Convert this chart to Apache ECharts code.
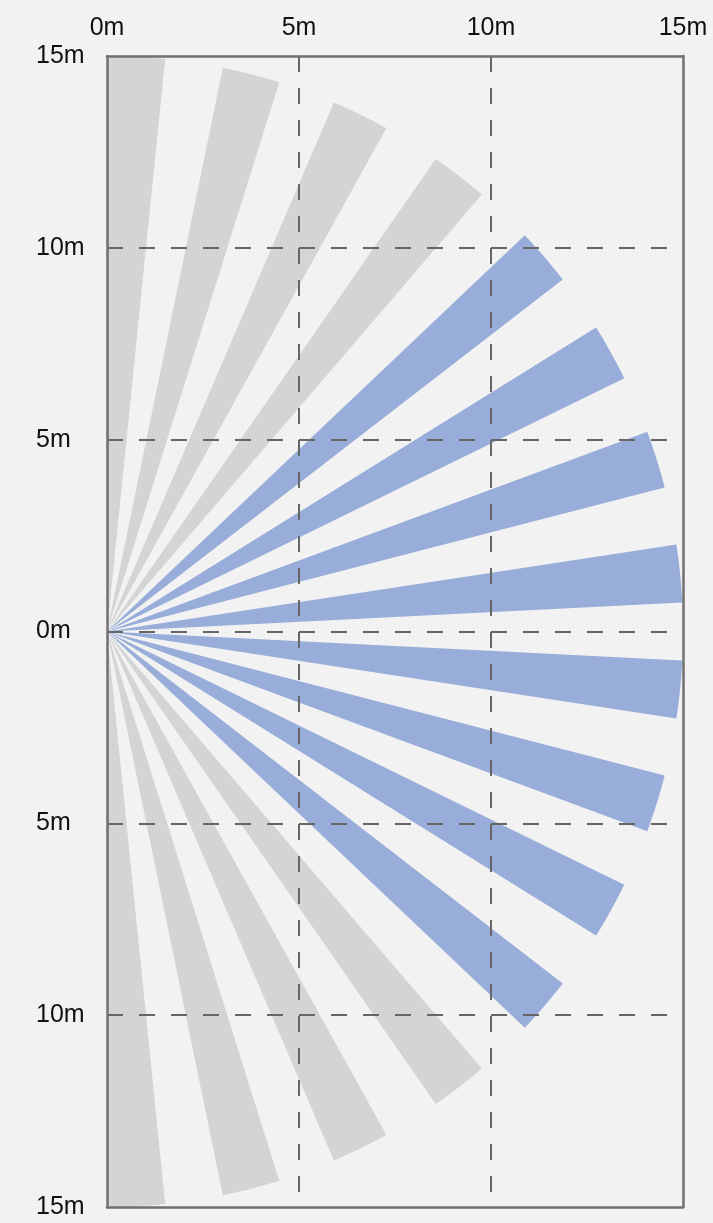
<!DOCTYPE html>
<html>
<head>
<meta charset="utf-8">
<style>
  html, body { margin: 0; padding: 0; background: #f2f2f2; }
  #chart { width: 713px; height: 1223px; }
</style>
<script src="https://cdn.jsdelivr.net/npm/echarts@6/dist/echarts.min.js"></script>
</head>
<body>
<div id="chart"></div>
<script>
// Wedge angles in degrees (0 = pointing right, positive = up), radius in metres
const wedgeStart = [90, 78.4, 66.8, 55.2, 43.5, 31.9, 20.3, 8.7, -2.9, -14.5, -26.1, -37.7, -49.4, -61.0, -72.6, -84.2];
const wedgeEnd   = [84.2, 72.6, 61.0, 49.4, 37.7, 26.1, 14.5, 2.9, -8.7, -20.3, -31.9, -43.5, -55.2, -66.8, -78.4, -90];
const wedgeRadius = [15, 15, 15, 15, 15, 15, 15, 15, 15, 15, 15, 15, 15, 15, 15, 15];
const wedgeGroup = ['grey', 'grey', 'grey', 'grey', 'blue', 'blue', 'blue', 'blue',
                    'blue', 'blue', 'blue', 'blue', 'grey', 'grey', 'grey', 'grey'];
const xTicks = [0, 5, 10, 15];
const yTicks = [-15, -10, -5, 0, 5, 10, 15];

const groupColors = { grey: '#d3d4d6', blue: '#98add9' };

function wedgeData(group) {
  const out = [];
  for (let i = 0; i < wedgeStart.length; i++) {
    if (wedgeGroup[i] === group) out.push([wedgeStart[i], wedgeEnd[i], wedgeRadius[i]]);
  }
  return out;
}

function renderWedge(params, api) {
  const a0 = api.value(0), a1 = api.value(1), r = api.value(2);
  const pts = [api.coord([0, 0])];
  const n = 40;
  for (let k = 0; k <= n; k++) {
    const a = (a0 + (a1 - a0) * k / n) * Math.PI / 180;
    pts.push(api.coord([r * Math.cos(a), r * Math.sin(a)]));
  }
  return {
    type: 'polygon',
    shape: { points: pts },
    style: { fill: api.visual('color') }
  };
}

const labelFont = { fontSize: 25, color: '#111', fontFamily: 'Liberation Sans, Arial, sans-serif' };
const frameLine = { show: true, onZero: false, lineStyle: { color: '#707070', width: 2.5 } };
const dashLine = { show: true, showMinLine: false, showMaxLine: false,
                   lineStyle: { color: '#666', width: 2, type: [16, 16] } };

const chart = echarts.init(document.getElementById('chart'), null, { renderer: 'canvas' });
chart.setOption({
  backgroundColor: '#f2f2f2',
  animation: false,
  grid: { left: 107, top: 56, width: 576, height: 1151 },
  xAxis: [
    {
      type: 'value', position: 'top', min: xTicks[0], max: xTicks[xTicks.length - 1], interval: 5,
      z: 5,
      axisLine: frameLine, axisTick: { show: false },
      axisLabel: Object.assign({ margin: 15, formatter: v => v + 'm' }, labelFont),
      splitLine: dashLine
    },
    {
      type: 'value', position: 'bottom', min: 0, max: 15, interval: 5, z: 5,
      axisLine: frameLine, axisTick: { show: false }, axisLabel: { show: false }, splitLine: { show: false }
    }
  ],
  yAxis: [
    {
      type: 'value', position: 'left', min: yTicks[0], max: yTicks[yTicks.length - 1], interval: 5,
      z: 5,
      axisLine: frameLine, axisTick: { show: false },
      axisLabel: Object.assign({ margin: 71, align: 'left', formatter: v => Math.abs(v) + 'm' }, labelFont),
      splitLine: dashLine
    },
    {
      type: 'value', position: 'right', min: -15, max: 15, interval: 5, z: 5,
      axisLine: frameLine, axisTick: { show: false }, axisLabel: { show: false }, splitLine: { show: false }
    }
  ],
  series: [
    {
      type: 'custom', name: 'grey', xAxisIndex: 0, yAxisIndex: 0, z: 2,
      renderItem: renderWedge, itemStyle: { color: groupColors.grey },
      data: wedgeData('grey'), silent: true
    },
    {
      type: 'custom', name: 'blue', xAxisIndex: 0, yAxisIndex: 0, z: 2,
      renderItem: renderWedge, itemStyle: { color: groupColors.blue },
      data: wedgeData('blue'), silent: true
    }
  ]
});
</script>
</body>
</html>
